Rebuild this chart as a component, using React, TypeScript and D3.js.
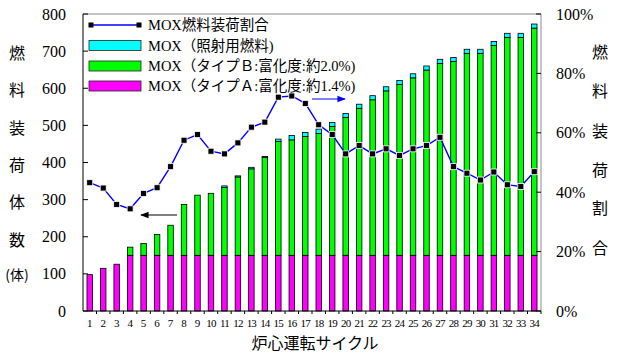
import { useEffect, useRef } from 'react';
import * as d3 from 'd3';

const cycles = ['1','2','3','4','5','6','7','8','9','10','11','12','13','14','15','16','17','18','19','20','21','22','23','24','25','26','27','28','29','30','31','32','33','34'];

// MOX (タイプA) 体数
const typeA = [98, 115, 126, 150, 150, 150, 150, 150, 150, 150, 150, 150, 150, 150, 150, 150, 150, 150, 150, 150, 150, 150, 150, 150, 150, 150, 150, 150, 150, 150, 150, 150, 150, 150];
// MOX (タイプB) 体数
const typeB = [0, 0, 0, 22, 32, 56, 81, 137, 162, 167, 183, 211, 233, 264, 307, 311, 320, 328, 347, 371, 396, 419, 443, 460, 478, 499, 517, 522, 544, 544, 565, 587, 587, 612];
// MOX (照射用燃料) 体数
const irradiation = [0, 0, 0, 0, 0, 0, 0, 0, 0, 0, 4, 3, 4, 2, 6, 12, 11, 12, 11, 11, 11, 11, 11, 11, 11, 11, 11, 11, 11, 11, 11, 11, 11, 11];
// MOX燃料装荷割合 (%)
const ratio = [43.2, 41.4, 35.9, 34.4, 39.6, 41.5, 48.6, 57.5, 59.4, 53.8, 52.9, 56.6, 61.9, 63.6, 72.0, 72.4, 69.9, 62.7, 59.4, 52.9, 55.7, 52.9, 54.6, 52.4, 54.6, 55.7, 58.5, 48.6, 46.4, 44.1, 46.8, 42.5, 41.9, 46.9];

const leftTicks = [0, 100, 200, 300, 400, 500, 600, 700, 800];
const rightTicks = [0, 20, 40, 60, 80, 100];
const leftTitle = ['燃', '料', '装', '荷', '体', '数', '(体)'];
const rightTitle = ['燃', '料', '装', '荷', '割', '合'];

const legendItems = [
  { label: 'MOX燃料装荷割合', kind: 'line', color: '#0000ff' },
  { label: 'MOX（照射用燃料)', kind: 'rect', color: '#00ffff' },
  { label: 'MOX（タイプＢ:富化度:約2.0%)', kind: 'rect', color: '#00ff00' },
  { label: 'MOX（タイプＡ:富化度:約1.4%)', kind: 'rect', color: '#ff00ff' },
];

const FONT = '"Liberation Serif", "Noto Sans CJK JP", serif';
const JFONT = '"Noto Sans CJK JP", sans-serif';

export default function App() {
  const svgRef = useRef<SVGSVGElement>(null);

  useEffect(() => {
    if (!svgRef.current) return;
    const width = 620;
    const height = 354;
    const plot = { left: 83, right: 541, top: 14, bottom: 311 };

    const svg = d3.select(svgRef.current);
    svg.selectAll('*').remove();
    svg.attr('width', width).attr('height', height);

    const x = d3.scaleBand<string>().domain(cycles).range([plot.left, plot.right]);
    const y = d3.scaleLinear().domain([0, 800]).range([plot.bottom, plot.top]);
    const yr = d3.scaleLinear().domain([0, 100]).range([plot.bottom, plot.top]);
    const barW = 5.5;

    // frame (top / right in grey)
    svg.append('line').attr('x1', plot.left).attr('x2', plot.right).attr('y1', plot.top).attr('y2', plot.top).attr('stroke', '#8a8a8a');
    svg.append('line').attr('x1', plot.right).attr('x2', plot.right).attr('y1', plot.top).attr('y2', plot.bottom).attr('stroke', '#8a8a8a');

    // stacked bars
    const stacks = cycles.map((c, i) => ({ c, a: typeA[i], b: typeB[i], ir: irradiation[i] }));
    const gBars = svg.append('g');
    stacks.forEach((d) => {
      const cx = (x(d.c) ?? 0) + x.bandwidth() / 2;
      const parts = [
        { lo: 0, hi: d.a, color: '#ff00ff' },
        { lo: d.a, hi: d.a + d.b, color: '#00ff00' },
        { lo: d.a + d.b, hi: d.a + d.b + d.ir, color: '#00ffff' },
      ];
      parts.forEach((p) => {
        if (p.hi - p.lo <= 0) return;
        gBars.append('rect')
          .attr('x', cx - barW / 2)
          .attr('y', y(p.hi))
          .attr('width', barW)
          .attr('height', y(p.lo) - y(p.hi))
          .attr('fill', p.color)
          .attr('stroke', '#000')
          .attr('stroke-width', 0.8);
      });
    });

    // left axis
    const gl = svg.append('g');
    gl.append('line').attr('x1', plot.left).attr('x2', plot.left).attr('y1', plot.top).attr('y2', plot.bottom).attr('stroke', '#000');
    leftTicks.forEach((t) => {
      gl.append('line').attr('x1', plot.left).attr('x2', plot.left + 5).attr('y1', y(t)).attr('y2', y(t)).attr('stroke', '#000');
      gl.append('text')
        .attr('x', 66).attr('y', y(t) + 5.5)
        .attr('text-anchor', 'end')
        .attr('font-family', FONT).attr('font-size', 16)
        .text(t);
    });

    // right axis
    rightTicks.forEach((t) => {
      svg.append('line').attr('x1', plot.right - 5).attr('x2', plot.right).attr('y1', yr(t)).attr('y2', yr(t)).attr('stroke', '#000');
      svg.append('text')
        .attr('x', 556).attr('y', yr(t) + 5.5)
        .attr('font-family', FONT).attr('font-size', 16)
        .text(`${t}%`);
    });

    // x axis
    svg.append('line').attr('x1', plot.left).attr('x2', plot.right).attr('y1', plot.bottom).attr('y2', plot.bottom).attr('stroke', '#000');
    cycles.forEach((c) => {
      const bx = x(c) ?? 0;
      svg.append('line').attr('x1', bx + x.bandwidth()).attr('x2', bx + x.bandwidth()).attr('y1', plot.bottom).attr('y2', plot.bottom + 3).attr('stroke', '#000');
      svg.append('text')
        .attr('x', bx + x.bandwidth() / 2).attr('y', 327)
        .attr('text-anchor', 'middle')
        .attr('font-family', FONT).attr('font-size', 11)
        .attr('letter-spacing', c.length > 1 ? -0.8 : 0)
        .text(c);
    });

    // ratio line
    const line = d3.line<number>()
      .x((_, i) => (x(cycles[i]) ?? 0) + x.bandwidth() / 2)
      .y((d) => yr(d));
    svg.append('path').datum(ratio).attr('d', line).attr('fill', 'none').attr('stroke', '#0000ff').attr('stroke-width', 1.4);
    svg.append('g').selectAll('rect').data(ratio).join('rect')
      .attr('x', (_, i) => (x(cycles[i]) ?? 0) + x.bandwidth() / 2 - 3)
      .attr('y', (d) => yr(d) - 3)
      .attr('width', 6).attr('height', 6)
      .attr('fill', '#000').attr('stroke', '#fff').attr('stroke-width', 0.8);

    // arrows
    const defs = svg.append('defs');
    [['arrBlack', '#000'], ['arrBlue', '#0000ff']].forEach(([id, col]) => {
      defs.append('marker').attr('id', id).attr('viewBox', '0 0 10 10').attr('refX', 9).attr('refY', 5)
        .attr('markerWidth', 7).attr('markerHeight', 7).attr('orient', 'auto-start-reverse')
        .append('path').attr('d', 'M0,1 L10,5 L0,9 Z').attr('fill', col);
    });
    svg.append('line').attr('x1', 177).attr('x2', 141).attr('y1', 215).attr('y2', 215)
      .attr('stroke', '#000').attr('stroke-width', 1.2).attr('marker-end', 'url(#arrBlack)');
    svg.append('line').attr('x1', 312).attr('x2', 345).attr('y1', 99).attr('y2', 99)
      .attr('stroke', '#0000ff').attr('stroke-width', 1.2).attr('marker-end', 'url(#arrBlue)');

    // legend
    const lg = svg.append('g');
    const rowY = [25, 45.5, 66, 86];
    legendItems.forEach((item, i) => {
      const ry = rowY[i];
      if (item.kind === 'line') {
        lg.append('line').attr('x1', 91).attr('x2', 139).attr('y1', ry).attr('y2', ry).attr('stroke', item.color).attr('stroke-width', 1.5);
        [91, 139].forEach((px) => lg.append('rect').attr('x', px - 2.5).attr('y', ry - 2.5).attr('width', 5).attr('height', 5).attr('fill', '#000'));
      } else {
        lg.append('rect').attr('x', 89).attr('y', ry - 5).attr('width', 52).attr('height', 10)
          .attr('fill', item.color).attr('stroke', '#222').attr('stroke-width', 0.8);
      }
      lg.append('text').attr('x', 148).attr('y', ry + 5)
        .attr('font-family', FONT).attr('font-size', 14.5)
        .text(item.label);
    });

    // axis titles
    const ly = [53, 90, 128, 165, 202, 240, 274];
    leftTitle.forEach((t, i) => {
      svg.append('text').attr('x', 17).attr('y', ly[i] + 6)
        .attr('text-anchor', 'middle').attr('font-family', JFONT).attr('font-size', t.length > 1 ? 14 : 16)
        .text(t);
    });
    const ryy = [52, 91, 131, 170, 208, 248];
    rightTitle.forEach((t, i) => {
      svg.append('text').attr('x', 600).attr('y', ryy[i] + 6)
        .attr('text-anchor', 'middle').attr('font-family', JFONT).attr('font-size', 16)
        .text(t);
    });
    svg.append('text').attr('x', 315).attr('y', 349)
      .attr('text-anchor', 'middle').attr('font-family', JFONT).attr('font-size', 16)
      .text('炉心運転サイクル');
  }, []);

  return (
    <svg ref={svgRef} style={{ position: 'absolute', left: 0, top: 0, background: '#fff' }} />
  );
}
